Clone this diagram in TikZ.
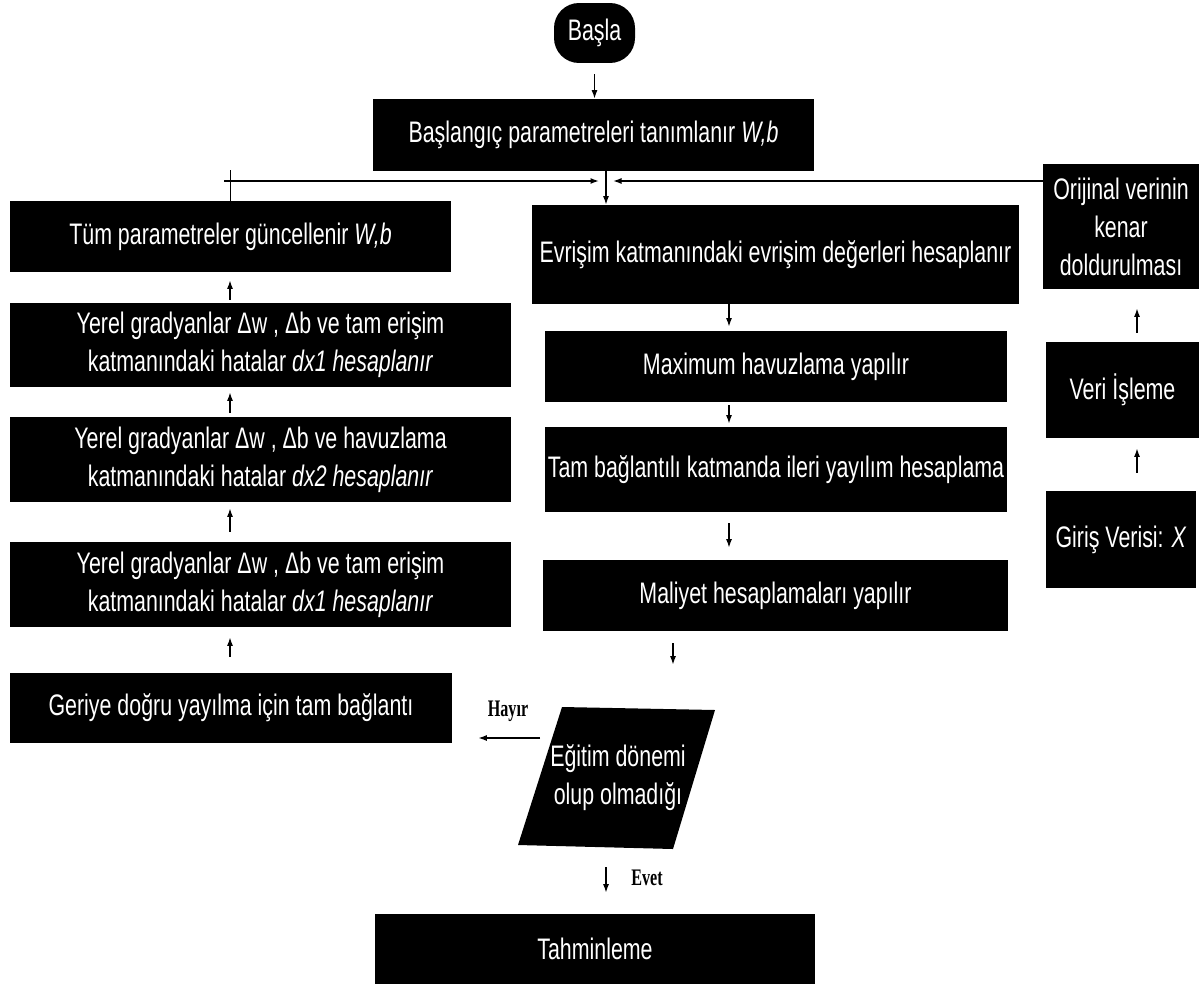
\documentclass[tikz,border=0pt]{standalone}
\usepackage{fontspec}
\setmainfont{Liberation Sans}[FakeStretch=0.72]
\newfontfamily\labfont{Liberation Serif}[FakeStretch=0.68]
\usetikzlibrary{arrows.meta}

\begin{document}
\begin{tikzpicture}
      [x=0.02cm, y=-0.02cm,
      box/.style={fill=black, text=white, inner sep=0pt, align=center,
        font=\fontsize{16.9}{21.6}\selectfont},
      arr/.style={-{Latex[length=1.7mm,width=1.2mm]}, line width=0.8pt},
      lab/.style={font=\labfont\bfseries\fontsize{13.5}{15}\selectfont},
      ]
      \useasboundingbox (0,0) rectangle (1202,987);
      % columns for the connectors
      \coordinate (c1) at (230,0);
      \coordinate (c2) at (729,0);
      \coordinate (c3) at (673,0);
      \coordinate (c4) at (1137,0);
      \coordinate (merge) at (606,181);
      \coordinate (loopl) at (224,181);
      \coordinate (no) at (540,738);

      \node[box, rounded corners=0.5cm, minimum width=1.62cm, minimum height=1.2cm] (basla) at (594.5,33) {Başla};
      \node[box, minimum width=8.82cm, minimum height=1.44cm] (basl) at (593.5,135) {Başlangıç parametreleri tanımlanır \textit{W,b}};

      % left column
      \node[box, minimum width=8.82cm, minimum height=1.42cm] (tum) at (230.5,236.5) {Tüm parametreler güncellenir \textit{W,b}};
      \node[box, minimum width=10.02cm, minimum height=1.68cm] (yerel1) at (260.5,345) {Yerel gradyanlar Δw , Δb ve tam erişim\\katmanındaki hatalar \textit{dx1 hesaplanır}};
      \node[box, minimum width=10.02cm, minimum height=1.7cm] (yerel2) at (260.5,459.5) {Yerel gradyanlar Δw , Δb ve havuzlama\\katmanındaki hatalar \textit{dx2 hesaplanır}};
      \node[box, minimum width=10.02cm, minimum height=1.7cm] (yerel3) at (260.5,584.5) {Yerel gradyanlar Δw , Δb ve tam erişim\\katmanındaki hatalar \textit{dx1 hesaplanır}};
      \node[box, minimum width=8.84cm, minimum height=1.4cm] (geri) at (231,708) {Geriye doğru yayılma için tam bağlantı};

      % middle column
      \node[box, minimum width=9.74cm, minimum height=1.98cm] (evr) at (775.5,254.5) {Evrişim katmanındaki evrişim değerleri hesaplanır};
      \node[box, minimum width=9.24cm, minimum height=1.42cm] (maxh) at (776,366.5) {Maximum havuzlama yapılır};
      \node[box, minimum width=9.24cm, minimum height=1.7cm] (tam) at (776,469.5) {Tam bağlantılı katmanda ileri yayılım hesaplama};
      \node[box, minimum width=9.3cm, minimum height=1.42cm] (maliyet) at (775.5,595.5) {Maliyet hesaplamaları yapılır};
      % decision: slanted box drawn by hand
      \fill (562,707) -- (715,710) -- (673,849) -- (518,845) -- cycle;
      \node[box, fill=none, minimum width=3.94cm, minimum height=2.84cm] (egitim) at (618,778) {Eğitim dönemi\\olup olmadığı};
      \node[box, minimum width=8.8cm, minimum height=1.4cm] (tahmin) at (595,949) {Tahminleme};

      % right column
      \node[box, minimum width=3.12cm, minimum height=2.5cm] (orij) at (1121,226.5) {Orijinal verinin\\kenar\\doldurulması};
      \node[box, minimum width=3.06cm, minimum height=1.92cm] (veri) at (1122.5,390) {Veri İşleme};
      \node[box, minimum width=3.0cm, minimum height=1.94cm] (giris) at (1121,539.5) {Giriş Verisi: \textit{X}};

      \node[lab] (hayir) at (508,711) {Hayır};
      \node[lab] (evet) at (647,878) {Evet};

      \draw[arr, shorten <=0.22cm] (basla.south) -- (basla.south |- basl.north);
      \draw[arr] (basl.south -| merge) -- (evr.north -| merge);
      \draw[line width=0.8pt] (tum.north) -- ++(0,-31);
      \draw[arr] (loopl) -- ([xshift=-0.14cm]merge);
      \draw[arr] (orij.west |- merge) -- ([xshift=0.14cm]merge);

      \draw[arr, shorten >=0.08cm] (evr.south -| c2) -- (maxh.north -| c2);
      \draw[arr, shorten <=0.06cm, shorten >=0.06cm] (maxh.south -| c2) -- (tam.north -| c2);
      \draw[arr, shorten <=0.22cm, shorten >=0.24cm] (tam.south -| c2) -- (maliyet.north -| c2);
      \draw[arr, shorten <=0.24cm, shorten >=0.84cm] (maliyet.south -| c3) -- (egitim.north -| c3);
      \draw[arr, shorten >=0.52cm] (no) -- (no -| geri.east);
      \draw[arr, shorten <=0.36cm, shorten >=0.42cm] (egitim.south -| merge) -- (tahmin.north -| merge);

      \draw[arr, shorten <=0.32cm, shorten >=0.2cm] (geri.north -| c1) -- (yerel3.south -| c1);
      \draw[arr, shorten <=0.2cm, shorten >=0.12cm] (yerel3.north -| c1) -- (yerel2.south -| c1);
      \draw[arr, shorten <=0.08cm, shorten >=0.1cm] (yerel2.north -| c1) -- (yerel1.south -| c1);
      \draw[arr, shorten <=0.06cm, shorten >=0.16cm] (yerel1.north -| c1) -- (tum.south -| c1);

      \draw[arr, shorten <=0.36cm, shorten >=0.2cm] (giris.north -| c4) -- (veri.south -| c4);
      \draw[arr, shorten <=0.18cm, shorten >=0.38cm] (veri.north -| c4) -- (orij.south -| c4);
\end{tikzpicture}
\end{document}
